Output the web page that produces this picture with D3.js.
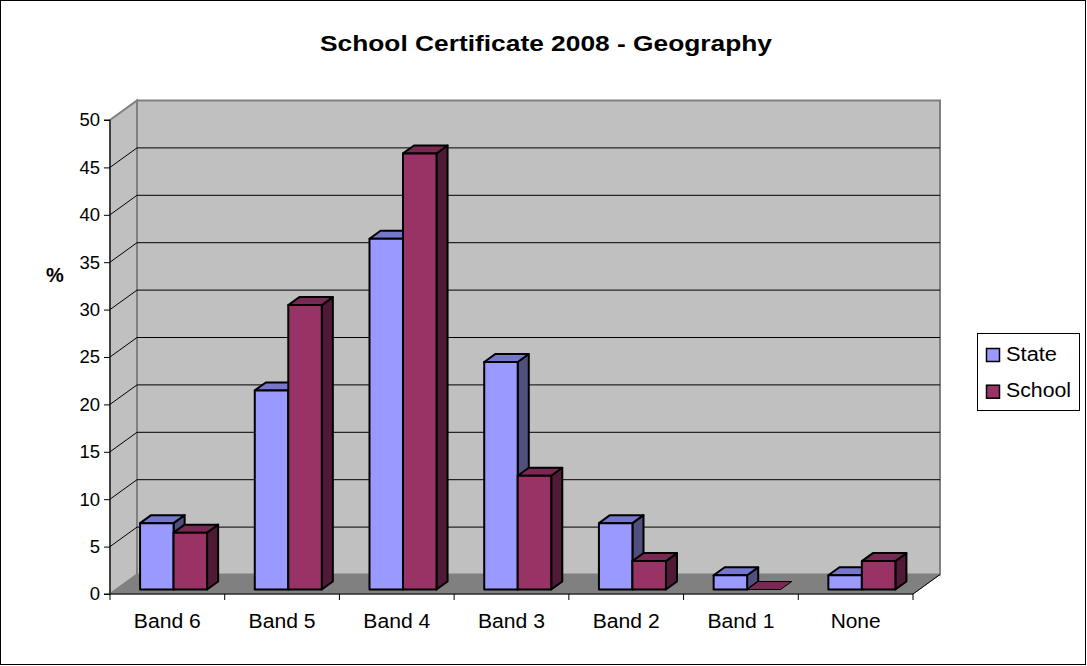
<!DOCTYPE html>
<html>
<head>
<meta charset="utf-8">
<script src="https://cdn.jsdelivr.net/npm/d3@7"></script>
<style>
  html, body { margin: 0; padding: 0; background: #fff; }
  svg { display: block; font-family: "Liberation Sans", Arial, sans-serif; }
</style>
</head>
<body>
<svg id="chart" width="1087" height="666"></svg>
<script>
// Percentage of candidates in each band
const categories = ["Band 6", "Band 5", "Band 4", "Band 3", "Band 2", "Band 1", "None"];
const seriesNames = ["State", "School"];
const stateValues = [7, 21, 37, 24, 7, 1.5, 1.5];
const schoolValues = [6, 30, 46, 12, 3, 0, 3];
const yTicks = [0, 5, 10, 15, 20, 25, 30, 35, 40, 45, 50];

const colors = {
  State:  { front: "#9999ff", top: "#7676cc", side: "#50507f" },
  School: { front: "#993366", top: "#7a2952", side: "#4f1a35" }
};

const svg = d3.select("#chart");

// Outer frame
svg.append("rect").attr("x", 0.5).attr("y", 0.5).attr("width", 1085).attr("height", 664)
  .attr("fill", "#fff").attr("stroke", "#000").attr("stroke-width", 1);

// Plot geometry: front plane and depth vector of the 3D box
const left = 110, right = 913;
const depth = { dx: 27, dy: -19.5 };
const y = d3.scaleLinear().domain([0, 50]).range([594, 120]);
const x0 = d3.scaleBand().domain(categories).range([left, right]).padding(0);
const barW = x0.bandwidth() * 0.292;
const x1 = d3.scaleBand().domain(seriesNames).range([-barW, barW]).padding(0);

// Bars sit between these fractions of the box depth
const f0 = 0.23, f1 = 0.64;

const pt = (p) => p.map(q => q.join(",")).join(" ");

// Floor
const g = svg.append("g");
g.append("polygon")
  .attr("points", pt([[left, y(0)], [right, y(0)], [right + depth.dx, y(0) + depth.dy], [left + depth.dx, y(0) + depth.dy]]))
  .attr("fill", "#808080").attr("stroke", "#808080").attr("stroke-width", 1);

// Side wall
g.append("polygon")
  .attr("points", pt([[left, y(0)], [left, y(50)], [left + depth.dx, y(50) + depth.dy], [left + depth.dx, y(0) + depth.dy]]))
  .attr("fill", "#c0c0c0").attr("stroke", "#808080").attr("stroke-width", 2);

// Back wall
g.append("rect")
  .attr("x", left + depth.dx).attr("y", y(50) + depth.dy)
  .attr("width", right - left).attr("height", y(0) - y(50))
  .attr("fill", "#c0c0c0").attr("stroke", "#808080").attr("stroke-width", 2);

// Gridlines on back and side walls
const grid = yTicks.filter(t => t > 0 && t < 50);
g.selectAll(".gback").data(grid).join("line")
  .attr("x1", left + depth.dx).attr("x2", right + depth.dx)
  .attr("y1", d => y(d) + depth.dy).attr("y2", d => y(d) + depth.dy)
  .attr("stroke", "#000").attr("stroke-width", 1);
g.selectAll(".gside").data(grid).join("line")
  .attr("x1", left).attr("x2", left + depth.dx)
  .attr("y1", d => y(d)).attr("y2", d => y(d) + depth.dy)
  .attr("stroke", "#000").attr("stroke-width", 1);

// Floor right edge
g.append("line")
  .attr("x1", right).attr("y1", y(0)).attr("x2", right + depth.dx).attr("y2", y(0) + depth.dy)
  .attr("stroke", "#000").attr("stroke-width", 1);

// Bars
const rows = [];
categories.forEach((c, i) => {
  rows.push({ cat: c, s: "State", v: stateValues[i] });
  rows.push({ cat: c, s: "School", v: schoolValues[i] });
});

const ox = depth.dx * f0, oy = depth.dy * f0;
const bx = depth.dx * (f1 - f0), by = depth.dy * (f1 - f0);
const bars = svg.append("g");
rows.forEach(r => {
  const xl = x0(r.cat) + x0.bandwidth() / 2 + x1(r.s) + ox;
  const xr = xl + x1.bandwidth();
  const yb = y(0) + oy;
  const yt = y(r.v) + oy;
  const c = colors[r.s];
  const gb = bars.append("g").attr("stroke", "#000").attr("stroke-width", 2).attr("stroke-linejoin", "round");
  if (r.v > 0) {
    gb.append("polygon").attr("points", pt([[xr, yb], [xr, yt], [xr + bx, yt + by], [xr + bx, yb + by]]))
      .attr("fill", c.side);
    gb.append("polygon").attr("points", pt([[xl, yt], [xr, yt], [xr + bx, yt + by], [xl + bx, yt + by]]))
      .attr("fill", c.top);
    gb.append("rect").attr("x", xl).attr("y", yt).attr("width", xr - xl).attr("height", yb - yt)
      .attr("fill", c.front);
  } else {
    gb.attr("stroke-width", 1);
    gb.append("polygon").attr("points", pt([[xl, yb], [xr, yb], [xr + bx, yb + by], [xl + bx, yb + by]]))
      .attr("fill", c.top);
  }
});

// Axes
const yAxis = d3.axisLeft(y).tickValues(yTicks).tickSize(6).tickPadding(4);
const ya = svg.append("g").attr("transform", `translate(${left},0)`).call(yAxis);
ya.select(".domain").attr("stroke", "#000").attr("d", `M-6,${y(0)}H0V${y(50)}H-6`);
ya.selectAll("text").attr("font-size", 18.5).attr("fill", "#000").attr("font-family", "Liberation Sans, Arial, sans-serif");

const xa = svg.append("g").attr("transform", `translate(0,${y(0)})`);
xa.append("line").attr("x1", left).attr("x2", right).attr("stroke", "#000");
xa.selectAll(".tk").data(d3.range(categories.length + 1)).join("line")
  .attr("x1", i => left + i * x0.bandwidth()).attr("x2", i => left + i * x0.bandwidth())
  .attr("y1", 0).attr("y2", 6).attr("stroke", "#000");
xa.selectAll(".lbl").data(categories).join("text")
  .attr("x", d => x0(d) + x0.bandwidth() / 2).attr("y", 34)
  .attr("text-anchor", "middle").attr("font-size", 19.5)
  .attr("textLength", d => d === "None" ? 50 : 67).attr("lengthAdjust", "spacingAndGlyphs")
  .text(d => d);

// Y axis title
svg.append("text").attr("x", 55).attr("y", 282).attr("text-anchor", "middle")
  .attr("font-size", 20).attr("font-weight", "bold").text("%");

// Title
svg.append("text").attr("x", 546).attr("y", 51).attr("text-anchor", "middle")
  .attr("font-size", 22.5).attr("font-weight", "bold")
  .attr("textLength", 452).attr("lengthAdjust", "spacingAndGlyphs")
  .text("School Certificate 2008 - Geography");

// Legend
const lg = svg.append("g");
lg.append("rect").attr("x", 977.5).attr("y", 333.5).attr("width", 102).attr("height", 77)
  .attr("fill", "#fff").attr("stroke", "#000");
const legendWidths = { State: 51, School: 65 };
seriesNames.forEach((s, i) => {
  const yy = 348.5 + i * 36.7;
  lg.append("rect").attr("x", 986.5).attr("y", yy).attr("width", 13).attr("height", 13)
    .attr("fill", colors[s].front).attr("stroke", "#000").attr("stroke-width", 1.5);
  lg.append("text").attr("x", 1006).attr("y", yy + 12).attr("font-size", 19.5)
    .attr("textLength", legendWidths[s]).attr("lengthAdjust", "spacingAndGlyphs").text(s);
});
</script>
</body>
</html>
